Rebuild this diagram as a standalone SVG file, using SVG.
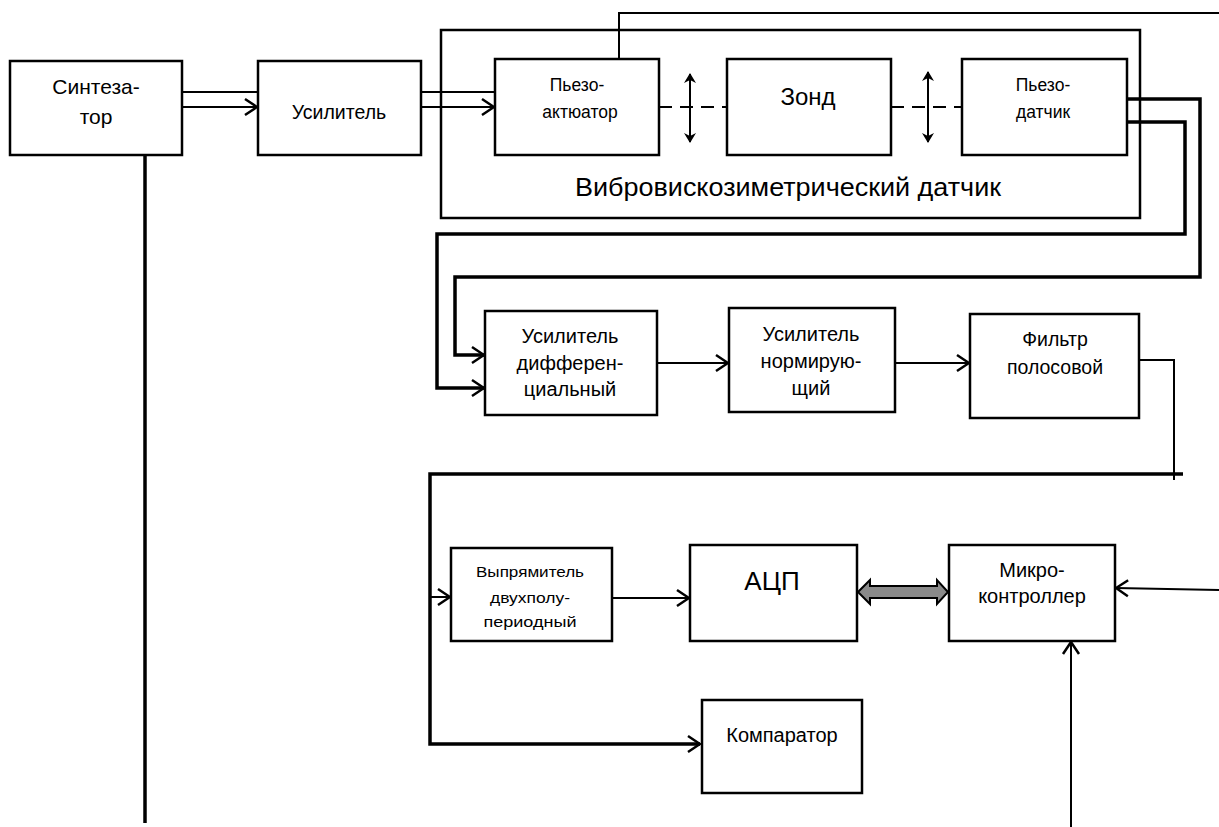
<svg xmlns="http://www.w3.org/2000/svg" width="1219" height="827" viewBox="0 0 1219 827">
<style>
.box{fill:#fff;stroke:#000;stroke-width:2.5}
.t{font-family:"Liberation Sans",Arial,sans-serif;text-anchor:middle;fill:#000}
.c{fill:none;stroke:#000;stroke-width:2}
.th{fill:none;stroke:#000;stroke-width:3.5}
</style>
<defs>
<marker id="oa" markerUnits="userSpaceOnUse" markerWidth="14" markerHeight="20" viewBox="0 0 14 20" refX="13" refY="10" orient="auto">
<path d="M1,2 L13,10 L1,18" fill="none" stroke="#000" stroke-width="2.5"/>
</marker>
<marker id="fa" markerUnits="userSpaceOnUse" markerWidth="10" markerHeight="14" viewBox="0 0 10 14" refX="9" refY="7" orient="auto-start-reverse">
<path d="M0,1 L10,7 L0,13 L3,7 Z" fill="#000"/>
</marker>
</defs>
<rect width="1219" height="827" fill="#fff"/>
<g id="connectors">
<line class="th" x1="145" y1="155" x2="145" y2="823"/>
<line class="c" x1="182" y1="92" x2="258" y2="92"/>
<line class="c" x1="182" y1="107" x2="257" y2="107" marker-end="url(#oa)"/>
<line class="c" x1="421" y1="92" x2="495" y2="92"/>
<line class="c" x1="421" y1="107" x2="494" y2="107" marker-end="url(#oa)"/>
<polyline class="c" points="619,59 619,13 1219,13"/>
<line class="c" x1="659" y1="107" x2="727" y2="107" stroke-dasharray="13,8"/>
<line class="c" x1="891" y1="107" x2="962" y2="107" stroke-dasharray="13,8"/>
<line class="c" x1="690" y1="74" x2="690" y2="142" marker-start="url(#fa)" marker-end="url(#fa)"/>
<line class="c" x1="928" y1="72" x2="928" y2="142" marker-start="url(#fa)" marker-end="url(#fa)"/>
<polyline class="th" points="1127,99 1200,99 1200,277 455,277 455,355 484,355" marker-end="url(#oa)"/>
<polyline class="th" points="1127,122 1185,122 1185,234 437,234 437,388 484,388" marker-end="url(#oa)"/>
<line class="c" x1="657" y1="363" x2="728" y2="363" marker-end="url(#oa)"/>
<line class="c" x1="895" y1="363" x2="969" y2="363" marker-end="url(#oa)"/>
<polyline class="c" points="1139,360 1174,360 1174,480"/>
<polyline class="th" points="1183,474 430,474 430,744 700,744" marker-end="url(#oa)"/>
<line class="c" x1="430" y1="597" x2="450" y2="597" marker-end="url(#oa)"/>
<line class="c" x1="612" y1="598" x2="689" y2="598" marker-end="url(#oa)"/>
<line class="c" x1="1219" y1="590" x2="1116" y2="588" marker-end="url(#oa)"/>
<line class="c" x1="1071" y1="827" x2="1071" y2="642" marker-end="url(#oa)"/>
<polygon points="858,592 870,580 870,586 937,586 937,580 948,592 937,604 937,598 870,598 870,604" fill="#8a8a8a" stroke="#000" stroke-width="2"/>
</g>
<g id="sensor">
<rect x="441" y="30" width="699" height="188" fill="none" stroke="#000" stroke-width="2.5"/>
<text class="t" x="788" y="196" font-size="25" textLength="426" lengthAdjust="spacingAndGlyphs">Вибровискозиметрический  датчик</text>
</g>
<g id="synth">
<rect class="box" x="10" y="61" width="172" height="94"/>
<text class="t" x="96" y="94" font-size="21">Синтеза-</text>
<text class="t" x="96" y="124" font-size="21">тор</text>
</g>
<g id="amp">
<rect class="box" x="258" y="61" width="163" height="94"/>
<text class="t" x="339" y="119" font-size="19.5">Усилитель</text>
</g>
<g id="actuator">
<rect class="box" x="495" y="59" width="164" height="96"/>
<text class="t" x="577" y="91" font-size="17.5">Пьезо-</text>
<text class="t" x="580" y="118" font-size="17.5">актюатор</text>
</g>
<g id="probe">
<rect class="box" x="727" y="59" width="164" height="96"/>
<text class="t" x="808" y="105" font-size="24">Зонд</text>
</g>
<g id="piezosensor">
<rect class="box" x="962" y="59" width="165" height="96"/>
<text class="t" x="1043" y="91" font-size="17.5">Пьезо-</text>
<text class="t" x="1043" y="118" font-size="17.5">датчик</text>
</g>
<g id="diffamp">
<rect class="box" x="485" y="311" width="172" height="104"/>
<text class="t" x="570" y="343" font-size="20">Усилитель</text>
<text class="t" x="570" y="370" font-size="20">дифферен-</text>
<text class="t" x="570" y="396" font-size="20">циальный</text>
</g>
<g id="normamp">
<rect class="box" x="729" y="308" width="166" height="104"/>
<text class="t" x="811" y="341" font-size="20">Усилитель</text>
<text class="t" x="811" y="368" font-size="20">нормирую-</text>
<text class="t" x="811" y="395" font-size="20">щий</text>
</g>
<g id="filter">
<rect class="box" x="970" y="314" width="169" height="104"/>
<text class="t" x="1055" y="346" font-size="19.5">Фильтр</text>
<text class="t" x="1055" y="374" font-size="19.5">полосовой</text>
</g>
<g id="rectifier">
<rect class="box" x="451" y="548" width="161" height="93"/>
<text class="t" x="530" y="577" font-size="15" textLength="108" lengthAdjust="spacingAndGlyphs">Выпрямитель</text>
<text class="t" x="530" y="603" font-size="15" textLength="80" lengthAdjust="spacingAndGlyphs">двухполу-</text>
<text class="t" x="530" y="627" font-size="15" textLength="93" lengthAdjust="spacingAndGlyphs">периодный</text>
</g>
<g id="adc">
<rect class="box" x="690" y="545" width="167" height="96"/>
<text class="t" x="772" y="590" font-size="26">АЦП</text>
</g>
<g id="mcu">
<rect class="box" x="949" y="545" width="166" height="96"/>
<text class="t" x="1032" y="577" font-size="20">Микро-</text>
<text class="t" x="1032" y="603" font-size="20">контроллер</text>
</g>
<g id="comparator">
<rect class="box" x="702" y="700" width="160" height="93"/>
<text class="t" x="782" y="742" font-size="20">Компаратор</text>
</g>
</svg>
